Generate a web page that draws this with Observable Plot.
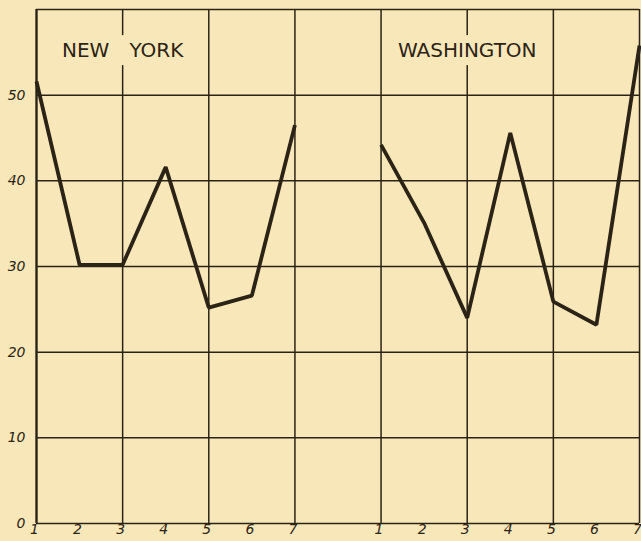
<!DOCTYPE html>
<html>
<head>
<meta charset="utf-8">
<script src="https://cdn.jsdelivr.net/npm/d3@7"></script>
<script src="https://cdn.jsdelivr.net/npm/@observablehq/plot@0.6"></script>
<style>
  html, body { margin: 0; padding: 0; background: #f8e8b9; }
</style>
</head>
<body>
<div id="chart"></div>
<script>
// ---- data ----
const cities = ["NEW YORK", "WASHINGTON"];
const days = [1, 2, 3, 4, 5, 6, 7];
const newYork = [51.6, 30.2, 30.2, 41.6, 25.2, 26.6, 46.5];
const washington = [44.2, 35.1, 24.0, 45.6, 25.9, 23.2, 55.8];
const yTicks = [0, 10, 20, 30, 40, 50];
const yTop = 60;

// ---- build table ----
const series = [newYork, washington];
const span = days.length + 1; // one empty day between the two panels
const pos = (ci, day) => ci * span + (day - 1);
const table = [];
cities.forEach((c, ci) => days.forEach((d, i) => table.push({city: c, day: d, x: pos(ci, d), value: series[ci][i]})));
const xTicks = table.map(r => ({x: r.x, label: String(r.day)}));
const xMax = pos(cities.length - 1, days[days.length - 1]);
const gridX = d3.range(0, xMax + 1, 2);
const titleY = 55.2;
const titles = cities.map((c, ci) => ({city: c, x: pos(ci, 3)}));

const ink = "#2b2316";
const bg = "#f8e8b9";

const chart = Plot.plot({
  width: 641,
  height: 541,
  marginLeft: 36,
  marginRight: 2,
  marginTop: 9,
  marginBottom: 18,
  style: {background: bg, fontFamily: "'DejaVu Sans', sans-serif", color: ink},
  x: {domain: [0, xMax], axis: null},
  y: {domain: [0, yTop], axis: null},
  marks: [
    Plot.ruleY([...yTicks, yTop], {y: d => d, stroke: ink, strokeWidth: 1.5}),
    Plot.ruleX(gridX, {x: d => d, stroke: ink, strokeWidth: 1.5}),
    Plot.ruleX([0], {x: d => d, stroke: ink, strokeWidth: 2.2}),
    // gap in the grid line behind each title
    Plot.ruleX(titles, {x: "x", y1: titleY - 1.75, y2: titleY + 1.75, stroke: bg, strokeWidth: 4}),
    Plot.text(titles, {
      x: "x", y: titleY, text: d => d.city.replace(" ", "\u2003"),
      fontSize: 20, fill: ink, stroke: bg, strokeWidth: 6, strokeLinejoin: "round"
    }),
    Plot.line(table, {
      x: "x", y: "value", z: "city", stroke: ink, strokeWidth: 3.8,
      strokeLinejoin: "miter", strokeLinecap: "butt"
    }),
    Plot.text(yTicks, {
      frameAnchor: "left", y: d => d, text: d => String(d), textAnchor: "end",
      dx: -11, fontSize: 14, fontStyle: "italic", fill: ink
    }),
    Plot.text(xTicks, {
      frameAnchor: "bottom", x: "x", text: "label", dy: 10, dx: -2,
      fontSize: 14, fontStyle: "italic", fill: ink
    })
  ]
});
document.getElementById("chart").appendChild(chart);
</script>
</body>
</html>
